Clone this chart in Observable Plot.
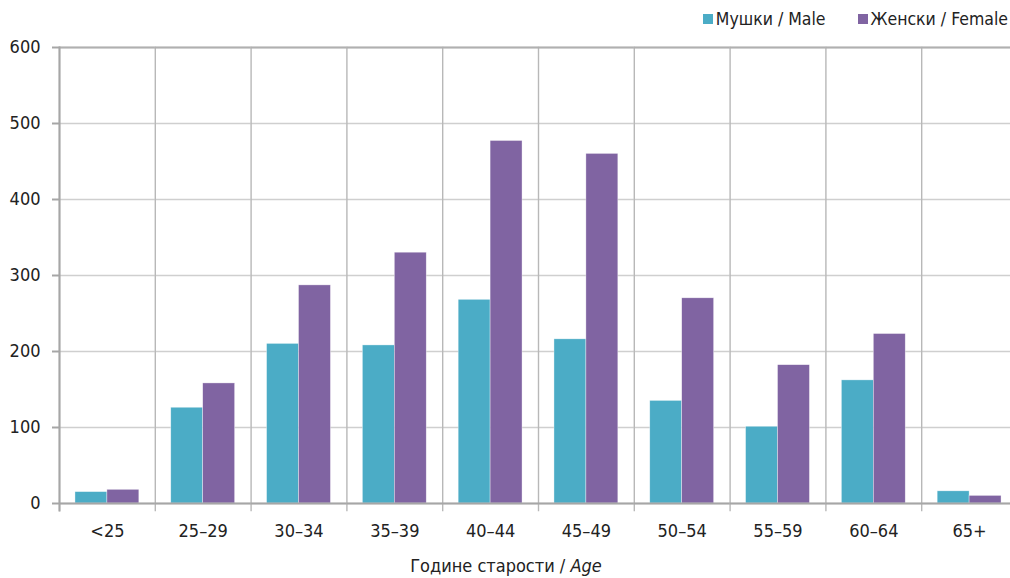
<!DOCTYPE html>
<html>
<head>
<meta charset="utf-8">
<script src="https://cdn.jsdelivr.net/npm/d3@7"></script>
<script src="https://cdn.jsdelivr.net/npm/@observablehq/plot@0.6"></script>
<style>
  html, body { margin: 0; padding: 0; background: #fff; overflow: hidden; }
  #wrap { width: 1010px; height: 578px; overflow: hidden; position: relative;
          font-family: "Liberation Sans Narrow", "DejaVu Sans Condensed", "Liberation Sans", sans-serif; color: #222; }
  #legend { height: 30px; display: flex; justify-content: flex-end; align-items: center; gap: 32px;
            padding-right: 2px; font-size: 17.5px; padding-top: 8px; box-sizing: border-box; }
  #legend span.sw { display: inline-block; width: 10px; height: 10px; margin-right: 3px; vertical-align: 1px; }
  #chart svg { max-width: none !important; }
  #xtitle { position: absolute; left: 0; width: 1012px; top: 555px; text-align: center; font-size: 18px; }
</style>
</head>
<body>
<div id="wrap">
  <div id="legend"></div>
  <div id="chart"></div>
  <div id="xtitle">Године старости / <i>Age</i></div>
</div>
<script>
const ages = ["<25", "25–29", "30–34", "35–39", "40–44", "45–49", "50–54", "55–59", "60–64", "65+"];
const sexes = ["Мушки / Male", "Женски / Female"];
const male = [15, 126, 210, 208, 268, 216, 135, 101, 162, 16];
const female = [18, 158, 287, 330, 477, 460, 270, 182, 223, 10];
const colors = ["#4BACC6", "#8064A2"];
const yTicks = [0, 100, 200, 300, 400, 500, 600];

const rows = [];
ages.forEach((a, i) => {
  rows.push({age: a, sex: sexes[0], value: male[i]});
  rows.push({age: a, sex: sexes[1], value: female[i]});
});

const legend = document.getElementById("legend");
sexes.forEach((s, i) => {
  const item = document.createElement("div");
  item.innerHTML = `<span class="sw" style="background:${colors[i]}"></span>${s}`;
  legend.appendChild(item);
});

const font = `"Liberation Sans Narrow", "DejaVu Sans Condensed", "Liberation Sans", sans-serif`;

const chart = Plot.plot({
  width: 1017,
  height: 518,
  marginLeft: 59,
  marginRight: 0,
  marginTop: 17,
  marginBottom: 45,
  style: {fontFamily: font, fontSize: "18px", color: "#222", background: "#fff", overflow: "visible", maxWidth: "none"},
  fx: {domain: ages, padding: 0, label: null, range: [59, 1017], round: false},
  x: {domain: sexes, paddingInner: 0, paddingOuter: 0.5, axis: null, round: false},
  y: {domain: [0, 600], ticks: yTicks, label: null},
  color: {domain: sexes, range: colors},
  marks: [
    Plot.gridY(yTicks, {stroke: "#cfcfcf", strokeOpacity: 1, strokeWidth: 1.6}),
    Plot.frame({anchor: "left", stroke: "#b8b8b8", strokeWidth: 1.4, insetBottom: -7}),
    Plot.barY(rows, {fx: "age", x: "sex", y: "value", fill: "sex", stroke: "#ffffff", strokeWidth: 0.6, strokeOpacity: 0.6}),
    Plot.ruleY([0], {stroke: "#a6a6a6", strokeWidth: 2}),
    Plot.ruleY([600], {stroke: "#b0b0b0", strokeWidth: 2}),
    Plot.frame({anchor: "left", facetAnchor: "left", stroke: "#a6a6a6", strokeWidth: 2, insetBottom: -7}),
    Plot.axisY(yTicks, {tickSize: 7, tickPadding: 12, stroke: "#a6a6a6", strokeWidth: 2, fontSize: 18, label: null, facetAnchor: "left"}),
    Plot.axisFx({anchor: "bottom", tickSize: 0, tickPadding: 21, fontSize: 18, label: null})
  ]
});
document.getElementById("chart").appendChild(chart);
</script>
</body>
</html>
